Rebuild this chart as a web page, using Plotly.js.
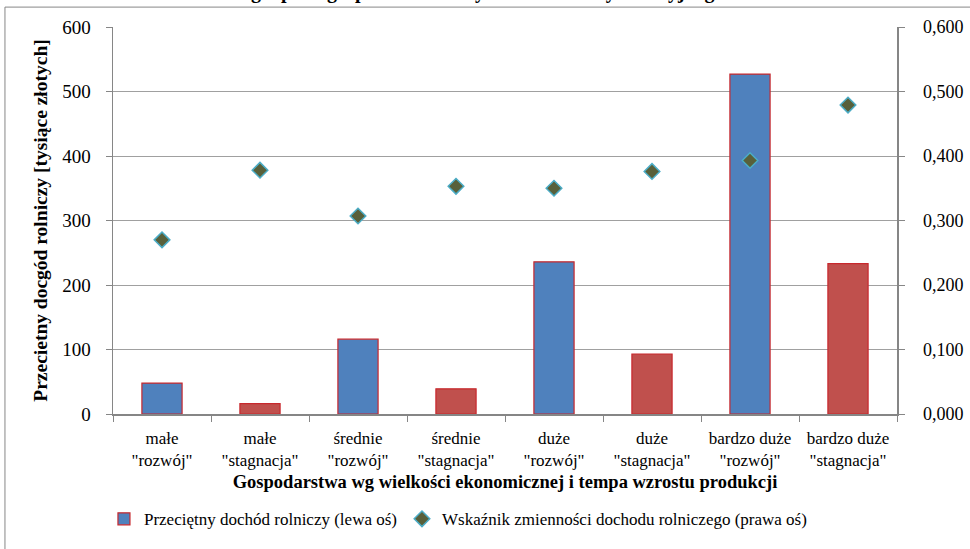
<!DOCTYPE html>
<html>
<head>
<meta charset="utf-8">
<script src="https://cdn.plot.ly/plotly-3.0.1.min.js"></script>
<style>html,body{margin:0;padding:0;background:#fff;}#chart{width:970px;height:549px;}</style>
</head>
<body>
<div id="chart"></div>
<script>
var categories = ['małe<br>"rozwój"', 'małe<br>"stagnacja"', 'średnie<br>"rozwój"', 'średnie<br>"stagnacja"',
                  'duże<br>"rozwój"', 'duże<br>"stagnacja"', 'bardzo duże<br>"rozwój"', 'bardzo duże<br>"stagnacja"'];
var incomeValues = [48, 16, 116, 39, 236, 93, 527, 233];
var variationValues = [0.270, 0.378, 0.307, 0.353, 0.350, 0.376, 0.393, 0.479];
var leftTicks = [0, 100, 200, 300, 400, 500, 600];
var rightTicks = [0, 0.1, 0.2, 0.3, 0.4, 0.5, 0.6];
var barColors = ['#4F81BD', '#C0504D', '#4F81BD', '#C0504D', '#4F81BD', '#C0504D', '#4F81BD', '#C0504D'];

var font = 'Liberation Serif';

var traces = [
  {
    type: 'bar', x: categories, y: incomeValues,
    name: 'Przeciętny dochód rolniczy (lewa oś)',
    marker: {color: barColors, line: {color: '#C8282D', width: 1.2}},
    hoverinfo: 'y'
  },
  {
    type: 'scatter', mode: 'markers', x: categories, y: variationValues, yaxis: 'y2',
    name: 'Wskaźnik zmienności dochodu rolniczego (prawa oś)',
    marker: {symbol: 'diamond', size: 12, color: '#58603A', line: {color: '#4BACC6', width: 1.5}}
  }
];

var layout = {
  width: 970, height: 549,
  margin: {l: 113, r: 73, t: 27, b: 133},
  paper_bgcolor: '#ffffff', plot_bgcolor: '#ffffff',
  separators: ', ',
  font: {family: font, color: '#000', size: 16},
  bargap: 0.59,
  showlegend: true,
  legend: {orientation: 'h', x: 0.44, xanchor: 'center', y: -0.272, yanchor: 'middle',
           font: {family: font, size: 17, color: '#000'}, itemwidth: 30},
  xaxis: {
    type: 'category', tickson: 'boundaries', ticks: 'outside', ticklen: 6, tickcolor: '#868686',
    showline: true, linecolor: '#868686', linewidth: 1.5, ticklabelstandoff: 8,
    tickfont: {family: font, size: 17, color: '#000'},
    title: {text: '<b>Gospodarstwa wg wielkości ekonomicznej i tempa wzrostu produkcji</b>',
            font: {family: font, size: 18.5, color: '#000'}, standoff: 6}
  },
  yaxis: {
    range: [0, 600], tickvals: leftTicks, ticks: 'outside', ticklen: 6, tickcolor: '#868686',
    showline: true, linecolor: '#868686', linewidth: 1.5, ticklabelstandoff: 11,
    showgrid: true, gridcolor: '#A0A0A0', gridwidth: 1, zeroline: false,
    tickfont: {family: font, size: 19, color: '#000'},
    title: {text: '<b>Przecietny docgód rolniczy [tysiące złotych]</b>', font: {family: font, size: 19.5, color: '#000'}, standoff: 9}
  },
  yaxis2: {
    range: [0, 0.6], tickvals: rightTicks, tickformat: '.3f', overlaying: 'y', side: 'right',
    ticks: 'outside', ticklen: 6, tickcolor: '#868686', ticklabelstandoff: 15,
    showline: true, linecolor: '#868686', linewidth: 1.5, showgrid: false, zeroline: false,
    tickfont: {family: font, size: 18, color: '#000'}
  },
  annotations: [
    {text: '<b>grupach gospodarstw rolnych w modelu symulacyjnego</b>', xref: 'paper', yref: 'paper',
     x: 0.478, y: 1.058, xanchor: 'center', yanchor: 'bottom', showarrow: false,
     font: {family: font, size: 20, color: '#000'}}
  ],
  shapes: [
    {type: 'line', xref: 'paper', yref: 'paper', x0: -0.1378, x1: 1.1, y0: 1.0514, y1: 1.0514,
     line: {color: '#868686', width: 1}},
    {type: 'line', xref: 'paper', yref: 'paper', x0: -0.1378, x1: -0.1378, y0: 1.0514, y1: -0.4,
     line: {color: '#868686', width: 1}}
  ]
};

Plotly.newPlot('chart', traces, layout, {displayModeBar: false, staticPlot: true});
</script>
</body>
</html>
